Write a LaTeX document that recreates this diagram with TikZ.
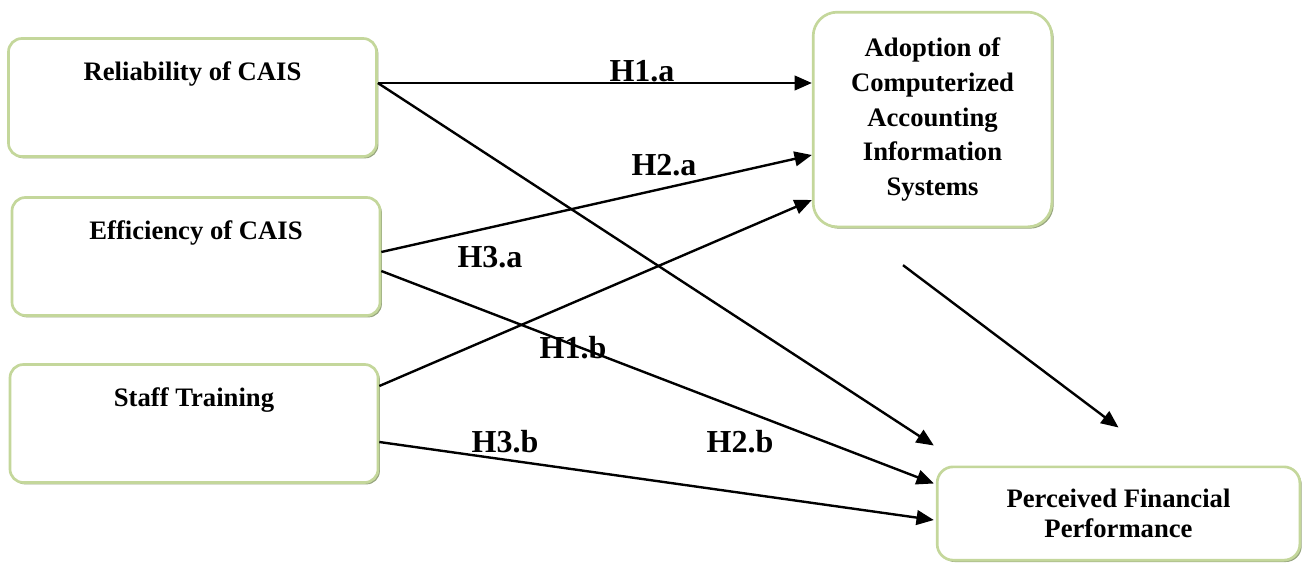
\documentclass[tikz,border=0pt]{standalone}
\usepackage{fontspec}
\setmainfont{Liberation Serif}
\usetikzlibrary{arrows.meta, calc, shadows}
\definecolor{boxgreen}{RGB}{196,215,155}
\definecolor{boxshade}{RGB}{150,164,126}
\tikzset{
  block/.style={rectangle, draw=boxgreen, fill=white, line width=2pt,
    rounded corners=10pt, inner xsep=0pt, inner ysep=0pt,
    drop shadow={shadow xshift=1.4pt, shadow yshift=-1.4pt, fill=boxshade, opacity=1},
    minimum width=276pt, text height=31.5pt, text depth=57pt, align=center,
    font=\fontsize{20}{26}\selectfont\bfseries},
  target/.style={rectangle, draw=boxgreen, fill=white, line width=2pt,
    rounded corners=12pt, inner sep=0pt, align=center,
    drop shadow={shadow xshift=1.4pt, shadow yshift=-1.4pt, fill=boxshade, opacity=1},
    font=\fontsize{20}{26}\selectfont\bfseries},
  hyp/.style={inner sep=0pt, font=\fontsize{24}{28}\selectfont\bfseries},
  arrow/.style={-{Triangle[length=13pt,width=11pt]}, line width=1.8pt, color=black}
}

\begin{document}
\begin{tikzpicture}[x=0.75pt, y=-0.75pt]
  \useasboundingbox (0,0) rectangle (1308,564);

  % Constructs
  \node[block] (rel) at (192.5,97.5) {Reliability of CAIS};
  \node[block] (eff) at (196,256.5) {Efficiency of CAIS};
  \node[block] (staff) at (194,423.5) {Staff Training};

  \node[target, minimum width=179pt, minimum height=161pt, rounded corners=18pt]
    (adopt) at (932.5,119.5) {Adoption of\\Computerized\\Accounting\\Information\\Systems};
  \node[target, minimum width=272pt, minimum height=70pt,
    font=\fontsize{20}{23}\selectfont\bfseries]
    (perf) at (1118.5,513.5) {Perceived Financial\\Performance};

  % Paths
  \draw[arrow] ($(rel.east)+(0,-14.5)$) -- ($(adopt.west)+(0,-36.5)$);
  \draw[arrow] ($(rel.east)+(0,-14.5)$) -- ($(perf.north west)+(-2,-20)$);
  \draw[arrow] ($(eff.east)+(0,-4.5)$) -- ($(adopt.west)+(0,35.5)$);
  \draw[arrow] ($(eff.east)+(0,14.5)$) -- ($(perf.north west)+(-2,18)$);
  \draw[arrow] ($(staff.east)+(0,-37.5)$) -- ($(adopt.west)+(0,80.5)$);
  \draw[arrow] ($(staff.east)+(0,18.5)$) -- ($(perf.west)+(-2,6.5)$);
  \draw[arrow] ($(adopt.south)+(-29.5,37)$) -- ($(perf.north)+(0,-38)$);

  % Hypotheses
  \node[hyp] (h1a) at (642,71) {H1.a};
  \node[hyp] (h2a) at (664,165) {H2.a};
  \node[hyp] (h3a) at (490,257) {H3.a};
  \node[hyp] (h1b) at (573,348) {H1.b};
  \node[hyp] (h3b) at (505,442) {H3.b};
  \node[hyp] (h2b) at (740,442) {H2.b};
\end{tikzpicture}
\end{document}
